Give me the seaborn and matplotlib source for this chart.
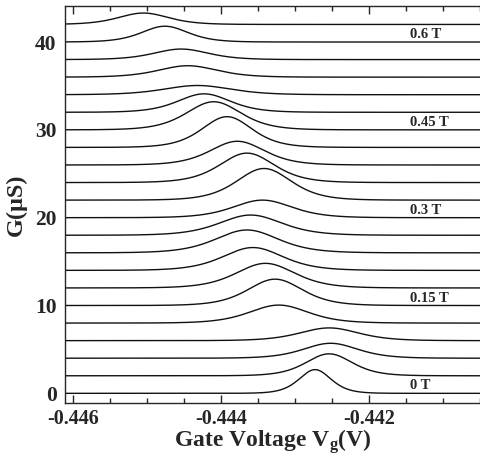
import numpy as np
import pandas as pd
import matplotlib
matplotlib.use("Agg")
import matplotlib.pyplot as plt
import seaborn as sns

# ---- data ----
field_T = [0.00, 0.03, 0.06, 0.09, 0.12, 0.15, 0.18, 0.21, 0.24, 0.27, 0.30,
           0.33, 0.36, 0.39, 0.42, 0.45, 0.48, 0.51, 0.54, 0.57, 0.60, 0.63]
offset_uS = [0, 2, 4, 6, 8, 10, 12, 14, 16, 18, 20,
             22, 24, 26, 28, 30, 32, 34, 36, 38, 40, 42]
peak_V = [-0.44273, -0.44254, -0.44252, -0.44254, -0.44322, -0.44327, -0.44340,
          -0.44357, -0.44365, -0.44360, -0.44344, -0.44342, -0.44365, -0.44378,
          -0.44392, -0.44410, -0.44423, -0.44432, -0.44445, -0.44454, -0.44476,
          -0.44505]
peak_uS = [2.7, 2.5, 1.7, 1.45, 2.05, 3.0, 2.8, 2.6, 2.6, 2.3, 2.0,
           3.6, 3.35, 2.7, 3.5, 3.2, 2.1, 1.05, 1.3, 1.2, 1.8, 1.3]
fwhm_V = [0.00051, 0.00074, 0.00087, 0.00094, 0.00094, 0.00087, 0.00094,
          0.00096, 0.00100, 0.00100, 0.00094, 0.00087, 0.00087, 0.00087,
          0.00080, 0.00087, 0.00084, 0.00107, 0.00094, 0.00087, 0.00074,
          0.00080]
label_text = ["0 T", "0.15 T", "0.3 T", "0.45 T", "0.6 T"]
label_curve = [0, 5, 10, 15, 20]
xticks = [-0.446, -0.444, -0.442]
yticks = [0, 10, 20, 30, 40]

# ---- build traces (thermally broadened peak lineshape) ----
vg = np.linspace(-0.4462, -0.4405, 900)
rows = []
for i in range(len(field_T)):
    w = fwhm_V[i] / 1.7627
    g = offset_uS[i] + peak_uS[i] / np.cosh((vg - peak_V[i]) / w) ** 2
    rows.append(pd.DataFrame({"Vg": vg, "G": g, "B": field_T[i]}))
df = pd.concat(rows, ignore_index=True)

sns.set_style("ticks")
plt.rcParams["font.family"] = ["Liberation Serif", "DejaVu Serif"]
plt.rcParams["mathtext.fontset"] = "custom"
plt.rcParams["mathtext.rm"] = "Liberation Serif:bold"
plt.rcParams["mathtext.it"] = "Liberation Serif:bold"

fig = plt.figure(figsize=(4.8, 4.57), dpi=100)
ax = fig.add_axes([65 / 480, 54 / 457, 415 / 480, 397 / 457])

sns.lineplot(data=df, x="Vg", y="G", hue="B", units="B", estimator=None,
             palette=["#111111"] * len(field_T), legend=False, lw=1.0, ax=ax,
             sort=False)

for t, k in zip(label_text, label_curve):
    ax.text(-0.44145, offset_uS[k] + 0.85, t, fontsize=10.5, fontweight="bold",
            va="center", ha="left")

ax.set_xlim(-0.44611, -0.44056)
ax.set_ylim(-1.1, 44.1)
ax.set_xticks(xticks)
ax.set_xticklabels([f"{v:.3f}" for v in xticks])
ax.set_xticks(np.arange(-0.446, -0.4405, 0.0005), minor=True)
ax.set_yticks(yticks)
ax.tick_params(axis="x", which="major", direction="in", length=6, width=1,
               top=True, labelsize=14.5, pad=4)
ax.tick_params(axis="x", which="minor", direction="in", length=3.5, width=1,
               top=True)
ax.tick_params(axis="y", length=0, labelsize=15.5, pad=6)
for lab in ax.get_xticklabels() + ax.get_yticklabels():
    lab.set_fontweight("bold")
ax.spines["right"].set_visible(False)
for s in ["left", "top", "bottom"]:
    ax.spines[s].set_linewidth(1.0)

ax.set_xlabel(r"Gate Voltage V$_{\mathrm{g}}$(V)", fontsize=17,
              fontweight="bold", labelpad=-1)
ax.set_ylabel("G(\u03bcS)", fontsize=17.5, fontweight="bold", labelpad=6)

fig.savefig("out.png", dpi=100)
